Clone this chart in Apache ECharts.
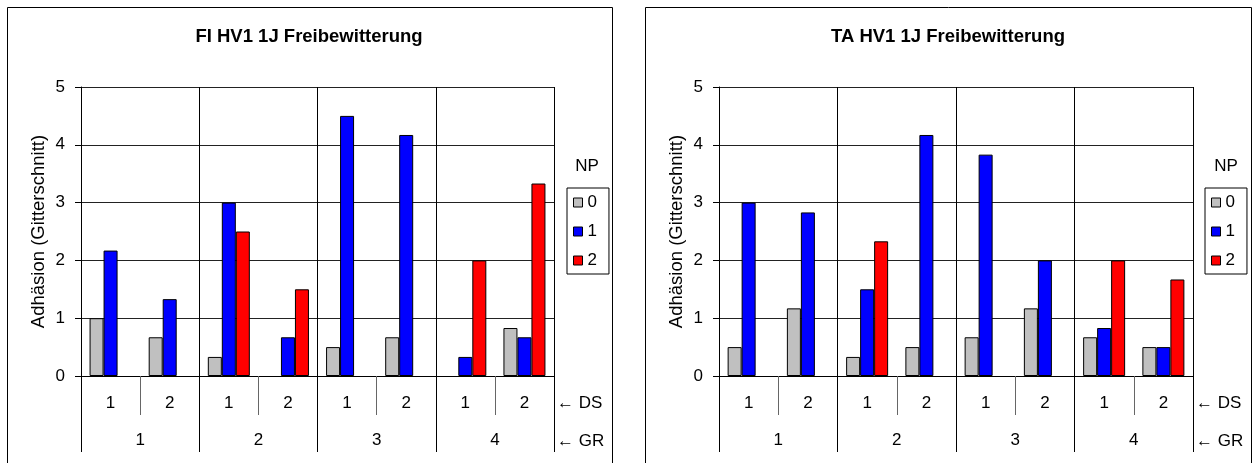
<!DOCTYPE html>
<html>
<head>
<meta charset="utf-8">
<script src="https://cdn.jsdelivr.net/npm/echarts@6/dist/echarts.min.js"></script>
<style>
  html, body { margin: 0; padding: 0; background: #fff; }
  #chart { width: 1255px; height: 463px; }
</style>
</head>
<body>
<div id="chart"></div>
<script>
// ---- data ----
const dsCategories = ['1', '2', '1', '2', '1', '2', '1', '2'];
const grCategories = ['1', '2', '3', '4'];
const npNames = ['0', '1', '2'];
const yTicks = [0, 1, 2, 3, 4, 5];

const titleFI = 'FI HV1 1J Freibewitterung';
const titleTA = 'TA HV1 1J Freibewitterung';
const yAxisName = 'Adhäsion (Gitterschnitt)';

const fiNP0 = [1.00, 0.67, 0.33, null, 0.50, 0.67, null, 0.83];
const fiNP1 = [2.17, 1.33, 3.00, 0.67, 4.50, 4.17, 0.33, 0.67];
const fiNP2 = [null, null, 2.50, 1.50, null, null, 2.00, 3.33];

const taNP0 = [0.50, 1.17, 0.33, 0.50, 0.67, 1.17, 0.67, 0.50];
const taNP1 = [3.00, 2.83, 1.50, 4.17, 3.83, 2.00, 0.83, 0.50];
const taNP2 = [null, null, 2.33, null, null, null, 2.00, 1.67];

// ---- styling ----
const FONT = '"Liberation Sans", Arial, "DejaVu Sans", sans-serif';
const colors = ['#C0C0C0', '#0000FF', '#FF0000'];
const FS = 17;

const chart = echarts.init(document.getElementById('chart'), null, { renderer: 'canvas' });

const grids = [
  { left: 81, top: 87, width: 473, height: 289 },
  { left: 719, top: 87, width: 474, height: 289 }
];

function dsAxis(gridIndex) {
  return {
    type: 'category', gridIndex, position: 'bottom', data: dsCategories,
    axisLine: { show: true, lineStyle: { color: '#000', width: 1 } },
    axisTick: { show: true, interval: 0, length: 39, lineStyle: { color: '#666' } },
    axisLabel: { interval: 0, margin: 19, color: '#000', fontSize: FS, fontFamily: FONT },
    splitLine: { show: false }
  };
}
function grAxis(gridIndex) {
  return {
    type: 'category', gridIndex, position: 'bottom', data: grCategories,
    axisLine: { show: false },
    axisTick: { show: true, interval: 0, length: 76, lineStyle: { color: '#000' } },
    axisLabel: { interval: 0, margin: 56, color: '#000', fontSize: FS, fontFamily: FONT },
    splitLine: { show: true, interval: 0, lineStyle: { color: '#000', width: 1 } }
  };
}
function yAxis(gridIndex) {
  return {
    type: 'value', gridIndex, min: yTicks[0], max: yTicks[yTicks.length - 1], interval: 1,
    name: yAxisName, nameLocation: 'middle', nameGap: 33, nameRotate: 90,
    nameTextStyle: { color: '#000', fontSize: 18.5, fontFamily: FONT },
    axisLine: { show: true, lineStyle: { color: '#000', width: 1 } },
    axisTick: { show: true, length: 6, lineStyle: { color: '#000' } },
    axisLabel: { margin: 16, color: '#000', fontSize: FS, fontFamily: FONT },
    splitLine: { show: true, lineStyle: { color: '#222', width: 1 } }
  };
}

function barSeries(name, data, xIdx, yIdx, color) {
  return {
    type: 'bar', name, data, xAxisIndex: xIdx, yAxisIndex: yIdx,
    barWidth: 14, barGap: '0%',
    itemStyle: { color, borderColor: '#000', borderWidth: 1 },
    emphasis: { disabled: true },
    animation: false
  };
}

function legend(left) {
  return {
    data: npNames, orient: 'vertical', left, top: 188,
    icon: 'rect', itemWidth: 9, itemHeight: 9, itemGap: 12,
    padding: [6, 12, 5, 6],
    borderColor: '#000', borderWidth: 1,
    itemStyle: { borderColor: '#000', borderWidth: 1 },
    textStyle: { color: '#000', fontSize: FS, fontFamily: FONT },
    selectedMode: false
  };
}

function txt(x, y, text, align) {
  return {
    type: 'text', x, y,
    style: { text, fill: '#000', font: FS + 'px ' + FONT, textAlign: align || 'left', textVerticalAlign: 'middle' }
  };
}

const option = {
  animation: false,
  backgroundColor: '#fff',
  color: colors,
  title: [
    { text: titleFI, left: 309, top: 27, textAlign: 'center', padding: 0,
      textStyle: { color: '#000', fontSize: 18.5, fontWeight: 'bold', fontFamily: FONT } },
    { text: titleTA, left: 948, top: 27, textAlign: 'center', padding: 0,
      textStyle: { color: '#000', fontSize: 18.5, fontWeight: 'bold', fontFamily: FONT } }
  ],
  grid: grids,
  xAxis: [dsAxis(0), grAxis(0), dsAxis(1), grAxis(1)],
  yAxis: [yAxis(0), yAxis(1)],
  legend: [legend(567), legend(1205)],
  series: [
    barSeries(npNames[0], fiNP0, 0, 0, colors[0]),
    barSeries(npNames[1], fiNP1, 0, 0, colors[1]),
    barSeries(npNames[2], fiNP2, 0, 0, colors[2]),
    barSeries(npNames[0], taNP0, 2, 1, colors[0]),
    barSeries(npNames[1], taNP1, 2, 1, colors[1]),
    barSeries(npNames[2], taNP2, 2, 1, colors[2])
  ],
  graphic: [
    { type: 'rect', shape: { x: 7.5, y: 7.5, width: 605, height: 470 },
      style: { fill: 'none', stroke: '#000', lineWidth: 1 }, silent: true },
    { type: 'rect', shape: { x: 645.5, y: 7.5, width: 606, height: 470 },
      style: { fill: 'none', stroke: '#000', lineWidth: 1 }, silent: true },
    txt(587, 166, 'NP', 'center'),
    txt(1226, 166, 'NP', 'center'),
    txt(557, 403, '← DS'),
    txt(557, 441, '← GR'),
    txt(1196, 403, '← DS'),
    txt(1196, 441, '← GR')
  ]
};

chart.setOption(option);
</script>
</body>
</html>
